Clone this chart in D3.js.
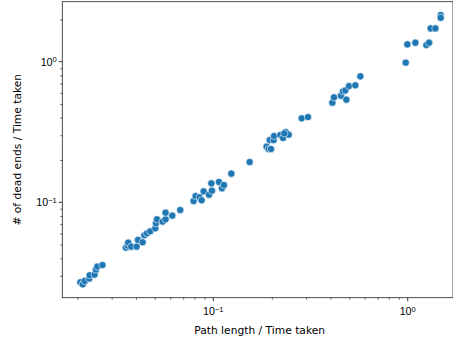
<!DOCTYPE html>
<html>
<head>
<meta charset="utf-8">
<script src="https://cdn.jsdelivr.net/npm/d3@7"></script>
<style>
  html, body { margin: 0; padding: 0; background: #fff; }
  svg { display: block; font-family: "DejaVu Sans", sans-serif; }
</style>
</head>
<body>
<svg id="chart" width="453" height="340"></svg>
<script>
// Data: (Path length / Time taken, # of dead ends / Time taken)
const pathRate = [
  0.0207, 0.0213, 0.0218, 0.0230, 0.0231, 0.0245, 0.0249, 0.0253, 0.0269,
  0.0355, 0.0362, 0.0365, 0.0378, 0.0403, 0.0410, 0.0433, 0.0442, 0.0456, 0.0474,
  0.0503, 0.0507, 0.0513, 0.0549, 0.0568, 0.0568, 0.0615, 0.0676,
  0.0792, 0.0811, 0.0850, 0.0871, 0.0892, 0.0950, 0.0984, 0.0977, 0.1069, 0.1108, 0.1135, 0.1238,
  0.1538,
  0.1881, 0.1927, 0.1950, 0.1981, 0.2044, 0.2052, 0.2212, 0.2284, 0.2357, 0.2442, 0.2319,
  0.2849, 0.3070,
  0.4096, 0.4176, 0.4539, 0.4648, 0.4778, 0.4835, 0.4990, 0.5378, 0.5707,
  0.9766, 0.9961, 1.095, 1.247, 1.288, 1.313, 1.388, 1.478, 1.478
];
const deadEndRate = [
  0.0270, 0.0261, 0.0276, 0.0287, 0.0303, 0.0306, 0.0332, 0.0349, 0.0358,
  0.0476, 0.0492, 0.0517, 0.0484, 0.0484, 0.0540, 0.0520, 0.0583, 0.0602, 0.0622,
  0.0653, 0.0709, 0.0757, 0.0729, 0.0757, 0.0844, 0.0804, 0.0882,
  0.1022, 0.1109, 0.1085, 0.1033, 0.1197, 0.1133, 0.1210, 0.1365, 0.1395, 0.1258, 0.1328, 0.1599,
  0.1935,
  0.2487, 0.2394, 0.2773, 0.2394, 0.2773, 0.2962, 0.3011, 0.2867, 0.3162, 0.3027, 0.3094,
  0.3956, 0.4043,
  0.5112, 0.5578, 0.5733, 0.6152, 0.6254, 0.5369, 0.6714, 0.6788, 0.7866,
  0.9838, 1.328, 1.365, 1.314, 1.365, 1.726, 1.726, 2.147, 2.055
];
const xMajorTicks = [0.1, 1];
const yMajorTicks = [0.1, 1];
const xLabel = "Path length / Time taken";
const yLabel = "# of dead ends / Time taken";

const svg = d3.select("#chart");
const mLeft = 62.3, mRight = 453, mTop = 1.7, mBottom = 297.7;
const fs = "10.7px";

const x = d3.scaleLog().domain([0.01672, 1.710]).range([mLeft, mRight]);
const y = d3.scaleLog().domain([0.02097, 2.672]).range([mBottom, mTop]);

function minorTicks(scale) {
  const [a, b] = scale.domain();
  const out = [];
  for (let e = Math.floor(Math.log10(a)); e <= Math.ceil(Math.log10(b)); e++) {
    for (let m = 2; m <= 9; m++) {
      const v = m * Math.pow(10, e);
      if (v >= a && v <= b) out.push(v);
    }
  }
  return out;
}

function supLabel(sel, v) {
  const e = Math.round(Math.log10(v));
  sel.text("");
  sel.append("tspan").text("10");
  sel.append("tspan").attr("dy", "-0.45em").attr("font-size", "7.6px")
     .text(e < 0 ? "\u2212" + Math.abs(e) : String(e));
}

// Points
svg.append("g").selectAll("circle")
  .data(pathRate.map((p, i) => [p, deadEndRate[i]]))
  .join("circle")
  .attr("cx", d => x(d[0]))
  .attr("cy", d => y(d[1]))
  .attr("r", 3.6)
  .attr("fill", "#1f77b4")
  .attr("stroke", "#ffffff")
  .attr("stroke-width", 0.55);

// Axes
const xAxis = svg.append("g").attr("transform", `translate(0,${mBottom})`);
xAxis.call(d3.axisBottom(x).tickValues(minorTicks(x)).tickSize(2).tickFormat(""));
xAxis.call(g => {
  const maj = g.append("g");
  xMajorTicks.forEach(v => {
    maj.append("line").attr("x1", x(v)).attr("x2", x(v)).attr("y1", 0).attr("y2", 3.5)
       .attr("stroke", "#000").attr("stroke-width", 0.8);
    const t = maj.append("text").attr("x", x(v)).attr("y", 17.5)
       .attr("text-anchor", "middle").attr("font-size", fs).attr("fill", "#000");
    supLabel(t, v);
  });
});
const yAxis = svg.append("g").attr("transform", `translate(${mLeft},0)`);
yAxis.call(d3.axisLeft(y).tickValues(minorTicks(y)).tickSize(2).tickFormat(""));
yAxis.call(g => {
  const maj = g.append("g");
  yMajorTicks.forEach(v => {
    maj.append("line").attr("x1", 0).attr("x2", -3.5).attr("y1", y(v)).attr("y2", y(v))
       .attr("stroke", "#000").attr("stroke-width", 0.8);
    const t = maj.append("text").attr("x", -5.5).attr("y", y(v) + 3.8)
       .attr("text-anchor", "end").attr("font-size", fs).attr("fill", "#000");
    supLabel(t, v);
  });
});
[xAxis, yAxis].forEach(a => {
  a.select(".domain").remove();
  a.selectAll(".tick line").attr("stroke", "#000").attr("stroke-width", 0.6);
});

// Spines
svg.append("rect").attr("x", mLeft).attr("y", mTop)
  .attr("width", mRight - mLeft).attr("height", mBottom - mTop)
  .attr("fill", "none").attr("stroke", "#222").attr("stroke-width", 0.8);

// Labels
svg.append("text").attr("x", (mLeft + mRight) / 2 + 2).attr("y", 333.5)
  .attr("text-anchor", "middle").attr("font-size", fs).attr("fill", "#000")
  .text(xLabel);
svg.append("text").attr("transform", `translate(21,${(mTop + mBottom) / 2}) rotate(-90)`)
  .attr("text-anchor", "middle").attr("font-size", fs).attr("fill", "#000")
  .text(yLabel);
</script>
</body>
</html>
